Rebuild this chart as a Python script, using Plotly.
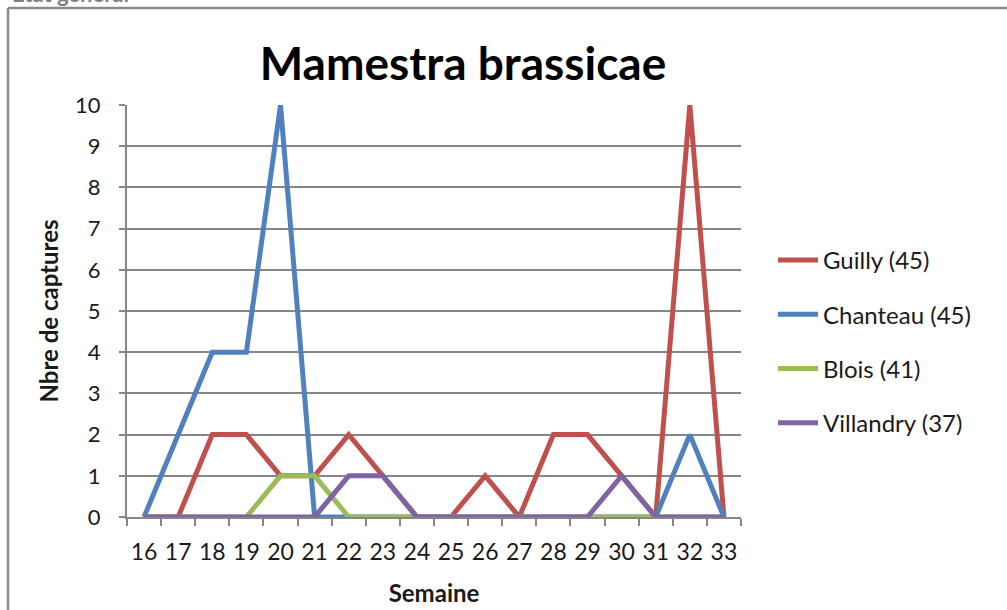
import plotly.graph_objects as go

weeks = [str(w) for w in range(16, 34)]
guilly = [0, 0, 2, 2, 1, 1, 2, 1, 0, 0, 1, 0, 2, 2, 1, 0, 10, 0]
chanteau = [0, 2, 4, 4, 10, 0, 0, 0, 0, 0, 0, 0, 0, 0, 0, 0, 2, 0]
blois = [0, 0, 0, 0, 1, 1, 0, 0, 0, 0, 0, 0, 0, 0, 0, 0, 0, 0]
villandry = [0, 0, 0, 0, 0, 0, 1, 1, 0, 0, 0, 0, 0, 0, 1, 0, 0, 0]

series = [
    ("Guilly (45)", guilly, "#C0504D"),
    ("Chanteau (45)", chanteau, "#4F81BD"),
    ("Blois (41)", blois, "#9BBB59"),
    ("Villandry (37)", villandry, "#8064A2"),
]

FONT = "Lato, 'Open Sans', sans-serif"

fig = go.Figure()
for i, (name, vals, col) in enumerate(series):
    fig.add_trace(go.Scatter(
        x=weeks, y=vals, name=name, mode="lines",
        line=dict(color=col, width=5),
        legendgroup=f"g{i}",
    ))

W, H = 1007, 610
L, R, T, B = 127, 741, 105, 517
px = lambda x: (x - L) / (R - L)
py = lambda y: (B - y) / (B - T)

fig.update_layout(
    width=W, height=H,
    margin=dict(l=L, r=W - R, t=T, b=H - B),
    paper_bgcolor="white", plot_bgcolor="white",
    font=dict(family=FONT, size=22, color="#1a1a1a"),
    title=dict(text="<b>Mamestra brassicae</b>", x=463 / W, xanchor="center",
               y=1 - 64 / H, yanchor="middle",
               font=dict(size=46, color="black", family=FONT)),
    showlegend=True,
    legend=dict(x=px(773), xanchor="left", y=py(238), yanchor="top",
                font=dict(size=24, color="#1a1a1a"),
                tracegroupgap=20, itemwidth=40, bgcolor="rgba(0,0,0,0)"),
    xaxis=dict(
        type="category", range=[-0.5, 17.5], automargin=False,
        showline=True, linecolor="#868686", linewidth=2,
        ticks="outside", tickson="boundaries", ticklen=7, tickcolor="#868686", tickwidth=2,
        showgrid=False, tickfont=dict(size=23), tickangle=0, ticklabelstandoff=13,
        title=dict(text="<b>Semaine</b>", font=dict(size=24), standoff=22),
    ),
    yaxis=dict(
        range=[0, 10], dtick=1, automargin=False,
        showline=True, linecolor="#868686", linewidth=2,
        ticks="outside", ticklen=6, tickcolor="#868686", tickwidth=2,
        showgrid=True, gridcolor="#868686", gridwidth=2,
        zeroline=False, tickfont=dict(size=22), ticklabelstandoff=14,
        title=dict(text="<b>Nbre de captures</b>", font=dict(size=24), standoff=10),
    ),
    shapes=[
        dict(type="line", xref="paper", yref="paper", x0=px(8), x1=px(8),
             y0=py(620), y1=py(8), line=dict(color="#8a8a8a", width=2.5)),
        dict(type="line", xref="paper", yref="paper", x0=px(8), x1=px(1010),
             y0=py(8), y1=py(8), line=dict(color="#8a8a8a", width=2.5)),
    ],
    annotations=[
        dict(text="<b>Etat général</b>", xref="paper", yref="paper",
             x=px(10), y=py(9), xanchor="left", yanchor="bottom",
             showarrow=False, font=dict(size=22, color="#7f7f7f", family=FONT)),
    ],
)

fig.write_html("out.html", config={"displayModeBar": False},
               post_script="document.body.style.margin='0';")
